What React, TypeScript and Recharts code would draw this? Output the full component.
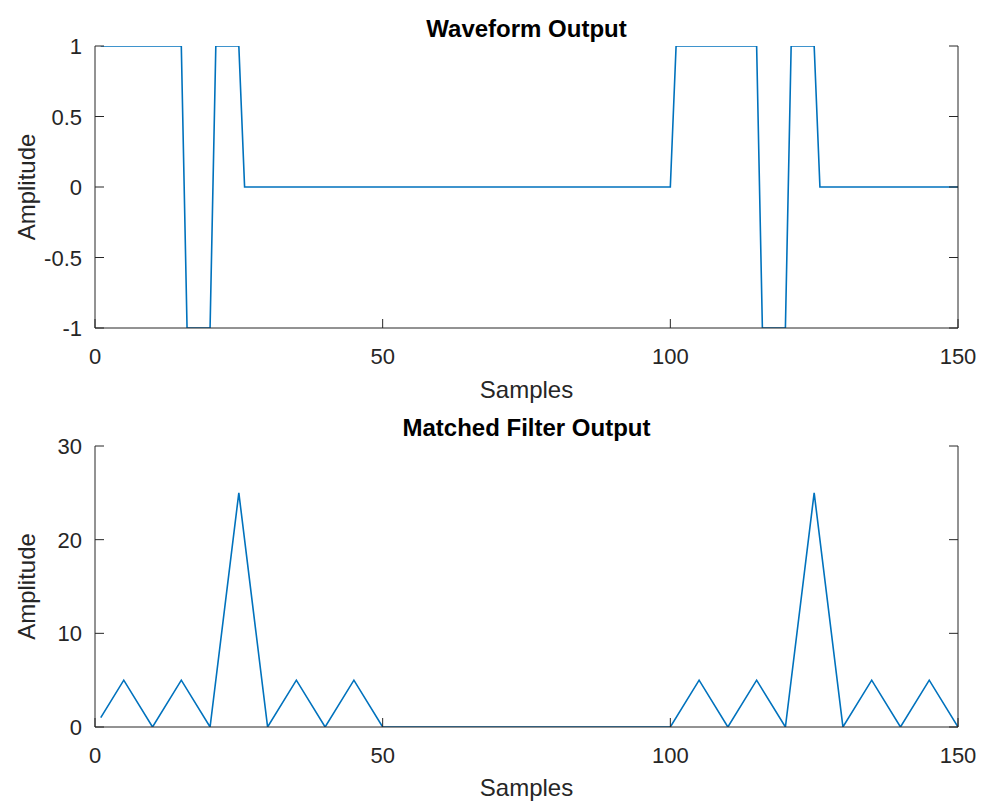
import { Line, LineChart, XAxis, YAxis } from 'recharts'

// waveform vertices (sample index, amplitude)
const waveSamples = [1, 15, 16, 20, 21, 25, 26, 100, 101, 115, 116, 120, 121, 125, 126, 150]
const waveValues = [1, 1, -1, -1, 1, 1, 0, 0, 1, 1, -1, -1, 1, 1, 0, 0]

// matched filter output vertices
const filterSamples = [1, 5, 10, 15, 20, 25, 30, 35, 40, 45, 50, 100, 105, 110, 115, 120, 125, 130, 135, 140, 145, 150]
const filterValues = [1, 5, 0, 5, 0, 25, 0, 5, 0, 5, 0, 0, 5, 0, 5, 0, 25, 0, 5, 0, 5, 0]

const sampleTicks = [0, 50, 100, 150]
const waveTicks = [-1, -0.5, 0, 0.5, 1]
const filterTicks = [0, 10, 20, 30]

const waveData = waveSamples.map((x, i) => ({ x, y: waveValues[i] }))
const filterData = filterSamples.map((x, i) => ({ x, y: filterValues[i] }))

const FONT = '"Liberation Sans", Arial, Helvetica, sans-serif'
const AXIS = '#262626'
const LINE = '#0072BD'
const TICK_LEN = 9
const X_GAP = 20
const Y_GAP = 13

const labelStyle = { fill: AXIS, fontSize: 24, fontFamily: FONT, textAnchor: 'middle' as const }

// MATLAB-style ticks: short marks inside the box, labels outside
function BottomTick(props: any) {
  const { x, y, payload } = props
  return (
    <g>
      <line x1={x} x2={x} y1={y} y2={y - TICK_LEN} stroke={AXIS} />
      <text x={x} y={y + X_GAP + 16} textAnchor="middle" fill={AXIS} fontSize={22} fontFamily={FONT}>
        {payload.value}
      </text>
    </g>
  )
}

function TopTick(props: any) {
  const { x, y } = props
  return <line x1={x} x2={x} y1={y} y2={y + TICK_LEN} stroke={AXIS} />
}

function LeftTick(props: any) {
  const { x, y, payload } = props
  return (
    <g>
      <line x1={x} x2={x + TICK_LEN} y1={y} y2={y} stroke={AXIS} />
      <text x={x - Y_GAP} y={y + 8} textAnchor="end" fill={AXIS} fontSize={22} fontFamily={FONT}>
        {payload.value}
      </text>
    </g>
  )
}

function RightTick(props: any) {
  const { x, y } = props
  return <line x1={x} x2={x - TICK_LEN} y1={y} y2={y} stroke={AXIS} />
}

interface PanelProps {
  data: { x: number; y: number }[]
  yDomain: [number, number]
  yTicks: number[]
  height: number
  xAxisHeight: number
  labelOffset: number
}

function Panel({ data, yDomain, yTicks, height, xAxisHeight, labelOffset }: PanelProps) {
  return (
    <LineChart width={986} height={height} data={data} margin={{ top: 46, right: 0, bottom: 0, left: 0 }}>
      <XAxis
        dataKey="x"
        type="number"
        domain={[0, 150]}
        ticks={sampleTicks}
        allowDataOverflow
        height={xAxisHeight}
        stroke={AXIS}
        tickLine={false}
        tickSize={0}
        tickMargin={0}
        tick={<BottomTick />}
        label={{ value: 'Samples', position: 'insideBottom', offset: labelOffset, style: labelStyle }}
      />
      <XAxis
        xAxisId="top"
        orientation="top"
        type="number"
        domain={[0, 150]}
        ticks={sampleTicks}
        allowDataOverflow
        height={0}
        stroke={AXIS}
        tickLine={false}
        tickSize={0}
        tickMargin={0}
        tick={<TopTick />}
      />
      <YAxis
        type="number"
        domain={yDomain}
        ticks={yTicks}
        allowDataOverflow
        width={95}
        stroke={AXIS}
        tickLine={false}
        tickSize={0}
        tickMargin={0}
        tick={<LeftTick />}
        label={{ value: 'Amplitude', angle: -90, position: 'insideLeft', offset: 26, style: labelStyle }}
      />
      <YAxis
        yAxisId="right"
        orientation="right"
        type="number"
        domain={yDomain}
        ticks={yTicks}
        allowDataOverflow
        width={28}
        stroke={AXIS}
        tickLine={false}
        tickSize={0}
        tickMargin={0}
        tick={<RightTick />}
      />
      <Line type="linear" dataKey="y" stroke={LINE} strokeWidth={1.6} dot={false} isAnimationActive={false} />
    </LineChart>
  )
}

const titleStyle = {
  position: 'absolute' as const,
  left: 95,
  width: 863,
  textAlign: 'center' as const,
  fontFamily: FONT,
  fontWeight: 'bold' as const,
  fontSize: 24,
  lineHeight: '24px',
  color: '#000',
}

function App() {
  return (
    <div style={{ position: 'absolute', left: 0, top: 0, width: 986, height: 804, background: '#fff' }}>
      <div style={{ position: 'absolute', left: 0, top: 0 }}>
        <Panel data={waveData} yDomain={[-1, 1]} yTicks={waveTicks} height={412} xAxisHeight={84} labelOffset={14} />
      </div>
      <div style={{ position: 'absolute', left: 0, top: 400 }}>
        <Panel data={filterData} yDomain={[0, 30]} yTicks={filterTicks} height={404} xAxisHeight={77} labelOffset={8} />
      </div>
      <div style={{ ...titleStyle, top: 17 }}>Waveform Output</div>
      <div style={{ ...titleStyle, top: 416 }}>Matched Filter Output</div>
    </div>
  )
}

export default App
